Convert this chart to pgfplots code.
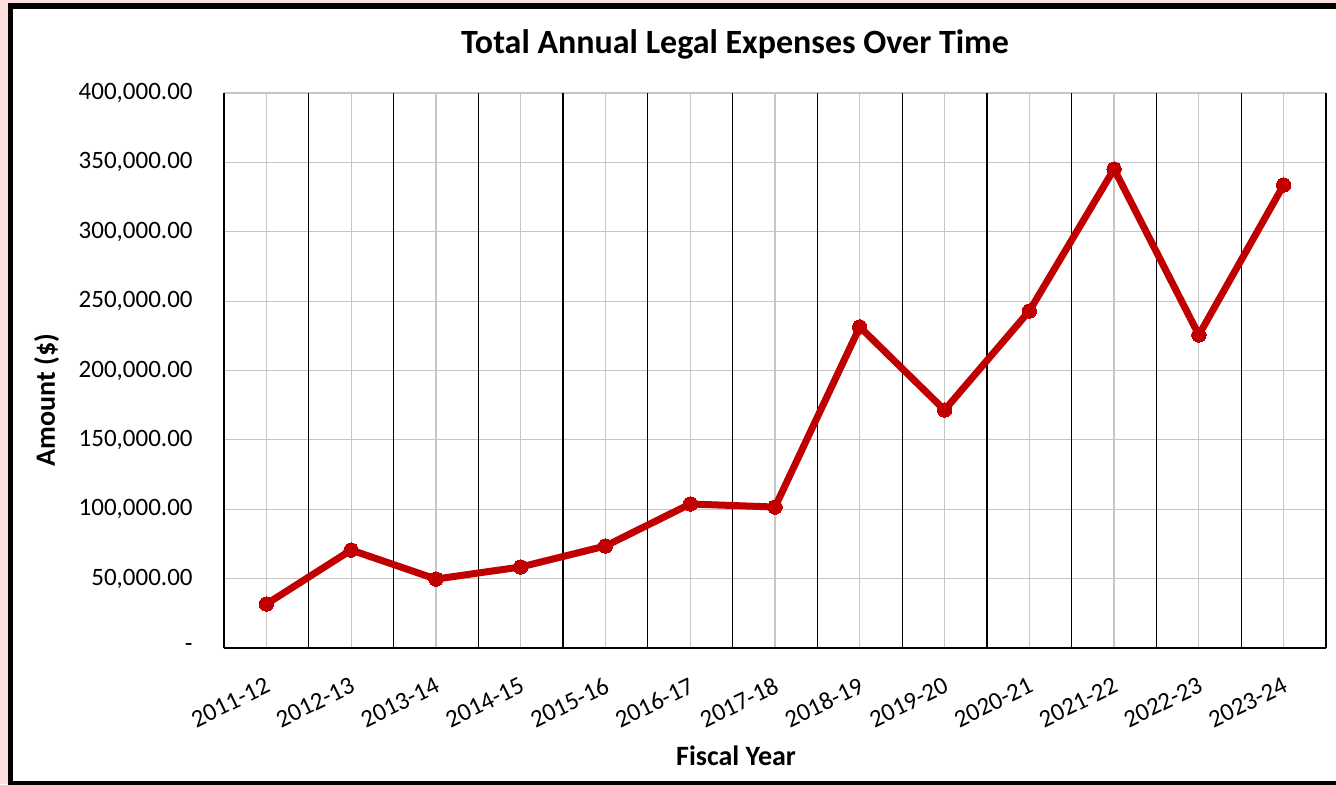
\documentclass[border=0pt]{standalone}
\usepackage{pgfplots}
\pgfplotsset{compat=1.18}
\usepackage{fontspec}
\setmainfont{Carlito}

\definecolor{linered}{HTML}{C00000}
\definecolor{bgpink}{HTML}{FFDEDE}
\definecolor{gridgray}{HTML}{C6C6C6}

% Annual legal expenses by fiscal year (index 0 = 2011-12)
\pgfplotstableread{
idx amount
0   31700
1   70600
2   49700
3   58400
4   73500
5   103800
6   101600
7   231400
8   171500
9   242900
10  345200
11  225600
12  333700
}\expenses

\begin{document}
\begin{tikzpicture}
\useasboundingbox (0pt,0pt) rectangle (668pt,392pt);
% page background and outer frame
\begin{scope}
\clip (0pt,0pt) rectangle (668pt,392pt);
\fill[bgpink] (0pt,0pt) rectangle (668pt,392pt);
\draw[black, line width=2.7pt, fill=white] (5.25pt,0.4pt) rectangle (680pt,389pt);
\end{scope}

\begin{axis}[
  at={(112pt,68pt)}, anchor=south west,
  scale only axis, width=551pt, height=277.5pt,
  xmin=-0.5, xmax=12.5, ymin=0, ymax=400000,
  axis line style={draw=none},
  tick style={draw=none},
  xtick={0,...,12},
  xticklabels={2011-12,2012-13,2013-14,2014-15,2015-16,2016-17,2017-18,2018-19,2019-20,2020-21,2021-22,2022-23,2023-24},
  ytick={0,50000,...,400000},
  yticklabels={{-\hspace{5pt}},{50,000.00},{100,000.00},{150,000.00},{200,000.00},{250,000.00},{300,000.00},{350,000.00},{400,000.00}},
  scaled y ticks=false,
  grid=major,
  major grid style={gridgray, line width=0.6pt},
  extra x ticks={-0.5,0.5,...,12.5},
  extra x tick labels={},
  extra x tick style={grid=major, major grid style={black, line width=0.6pt}},
  extra y ticks={0},
  extra y tick labels={},
  extra y tick style={grid=major, major grid style={black, line width=0.7pt}},
  ticklabel style={font=\fontsize{12.5}{15}\selectfont},
  yticklabel style={anchor=east, inner sep=0pt, xshift=-15.5pt},
  xticklabel style={yshift=-18pt, xshift=1pt, anchor=east, rotate=26, inner sep=0pt},
  every axis title shift=0pt,
  title={Total Annual Legal Expenses Over Time},
  title style={font=\bfseries\fontsize{17}{20}\selectfont, at={(axis description cs:0.4637,1.072)}, anchor=base},
  xlabel={Fiscal Year},
  xlabel style={font=\bfseries\fontsize{14}{17}\selectfont, at={(axis description cs:0.4646,-0.2108)}, anchor=base},
  ylabel={Amount (\$)},
  every axis y label/.style={font=\bfseries\fontsize{14}{17}\selectfont, at={(axis description cs:-0.1534,0.447)}, rotate=90, anchor=base},
]
\addplot[linered, line width=3.5pt, line join=round, mark=*, mark size=3.6pt,
  mark options={fill=linered, draw=linered, line width=0pt}]
  table[x=idx, y=amount] {\expenses};
\end{axis}
\end{tikzpicture}
\end{document}
